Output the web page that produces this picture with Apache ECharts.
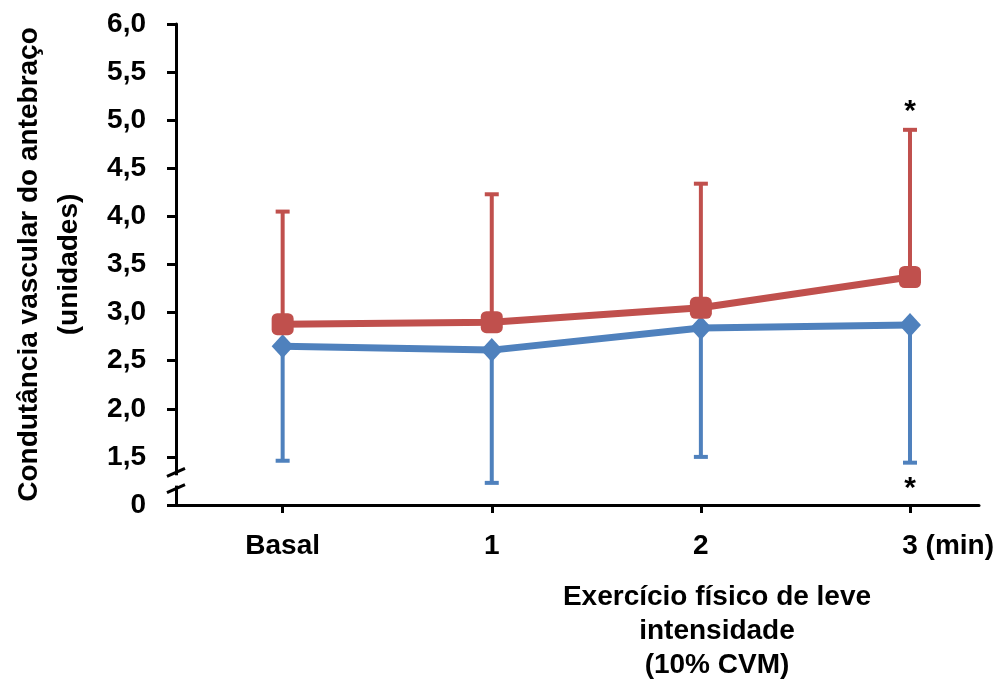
<!DOCTYPE html>
<html>
<head>
<meta charset="utf-8">
<script src="https://cdn.jsdelivr.net/npm/echarts@6/dist/echarts.min.js"></script>
<style>
html,body{margin:0;padding:0;background:#fff;}
#chart{width:1003px;height:680px;}
</style>
</head>
<body>
<div id="chart"></div>
<script>
// Data
var categories = ['Basal', '1', '2', '3'];
var redMean = [2.88, 2.90, 3.05, 3.37];
var redUpper = [4.05, 4.23, 4.34, 4.90];
var blueMean = [2.65, 2.61, 2.84, 2.87];
var blueLower = [1.46, 1.23, 1.50, 1.44];
var significant = [false, false, false, true];
var yTicks = [1.0, 1.5, 2.0, 2.5, 3.0, 3.5, 4.0, 4.5, 5.0, 5.5, 6.0];
var yTickLabels = ['0', '1,5', '2,0', '2,5', '3,0', '3,5', '4,0', '4,5', '5,0', '5,5', '6,0'];
var breakValues = [1.17, 1.34];
var yTitle = 'Condutância vascular do antebraço\n(unidades)';
var xTitle = 'Exercício físico de leve\nintensidade\n(10% CVM)';

var RED = '#C0504D', BLUE = '#4F81BD';
var FONT = '"Liberation Sans", Arial, sans-serif';
var XMIN = -0.51, XMAX = 3.33;

var chart = echarts.init(document.getElementById('chart'), null, {renderer: 'canvas'});

function pts(arr) { return arr.map(function (v, i) { return [i, v]; }); }

function errSeries(mean, bound, color, up) {
  return {
    type: 'custom',
    z: 1,
    data: mean.map(function (m, i) { return [i, m, bound[i], significant[i] ? 1 : 0]; }),
    renderItem: function (params, api) {
      var x = api.value(0);
      var p0 = api.coord([x, api.value(1)]);
      var p1 = api.coord([x, api.value(2)]);
      var children = [
        {type: 'line', shape: {x1: p0[0], y1: p0[1], x2: p1[0], y2: p1[1]}, style: {stroke: color, lineWidth: 4}},
        {type: 'line', shape: {x1: p1[0] - 7, y1: p1[1], x2: p1[0] + 7, y2: p1[1]}, style: {stroke: color, lineWidth: 4}}
      ];
      if (api.value(3)) {
        children.push({
          type: 'text',
          style: {
            text: '*', x: p1[0], y: up ? p1[1] - 3 : p1[1] + 11,
            align: 'center', verticalAlign: up ? 'bottom' : 'top',
            font: 'bold 30px ' + FONT, fill: '#000'
          }
        });
      }
      return {type: 'group', children: children};
    },
    silent: true
  };
}

var option = {
  animation: false,
  backgroundColor: '#fff',
  title: {
    text: xTitle,
    left: 712, top: 575, textAlign: 'center',
    textStyle: {fontFamily: FONT, fontWeight: 'bold', fontSize: 28, lineHeight: 34, color: '#000'}
  },
  grid: {left: 176, right: 24, top: 24, bottom: 175, containLabel: false, outerBoundsMode: 'none'},
  xAxis: {
    type: 'value', min: XMIN, max: XMAX,
    splitLine: {show: false},
    axisLine: {onZero: false, lineStyle: {color: '#000', width: 3}},
    axisTick: {show: true, customValues: [0, 1, 2, 3], length: 8, inside: false, lineStyle: {color: '#000', width: 3}},
    axisLabel: {
      customValues: [0, 1, 2, 3],
      margin: 27,
      fontFamily: FONT, fontWeight: 'bold', fontSize: 28, color: '#000',
      formatter: function (v) {
        var i = Math.round(v);
        if (i === 3) return '{h|(min) }' + categories[i] + ' (min)';
        return categories[i];
      },
      rich: {h: {color: 'rgba(0,0,0,0)', fontFamily: FONT, fontWeight: 'bold', fontSize: 28}}
    }
  },
  yAxis: {
    type: 'value', min: 1, max: 6, interval: 0.5,
    name: yTitle, nameLocation: 'middle', nameGap: 87, nameRotate: 90,
    nameTextStyle: {fontFamily: FONT, fontWeight: 'bold', fontSize: 28, lineHeight: 40, color: '#000'},
    splitLine: {show: false},
    axisLine: {show: true, onZero: false, lineStyle: {color: '#000', width: 3}},
    axisTick: {show: true, length: 9, lineStyle: {color: '#000', width: 3}},
    axisLabel: {
      margin: 30,
      fontFamily: FONT, fontWeight: 'bold', fontSize: 28, color: '#000',
      formatter: function (v) {
        for (var k = 0; k < yTicks.length; k++) if (Math.abs(yTicks[k] - v) < 1e-6) return yTickLabels[k];
        return '';
      }
    }
  },
  series: [
    errSeries(redMean, redUpper, RED, true),
    errSeries(blueMean, blueLower, BLUE, false),
    {
      type: 'line', data: pts(blueMean), z: 3,
      symbol: 'diamond', symbolSize: [22, 24],
      lineStyle: {color: BLUE, width: 7}, itemStyle: {color: BLUE}
    },
    {
      type: 'line', data: pts(redMean), z: 4,
      symbol: 'roundRect', symbolSize: 22,
      lineStyle: {color: RED, width: 7}, itemStyle: {color: RED}
    }
  ]
};
chart.setOption(option);

// Axis break marks
function drawBreak() {
  var lo = chart.convertToPixel({gridIndex: 0}, [XMIN, breakValues[0]]);
  var hi = chart.convertToPixel({gridIndex: 0}, [XMIN, breakValues[1]]);
  var x = lo[0];
  chart.setOption({
    graphic: [
      {type: 'rect', shape: {x: x - 3, y: hi[1] + 3, width: 6, height: lo[1] - hi[1] - 6}, style: {fill: '#fff'}, z: 100},
      {type: 'line', shape: {x1: x - 9, y1: hi[1] + 4, x2: x + 9, y2: hi[1] - 4}, style: {stroke: '#000', lineWidth: 3}, z: 101},
      {type: 'line', shape: {x1: x - 9, y1: lo[1] + 4, x2: x + 9, y2: lo[1] - 4}, style: {stroke: '#000', lineWidth: 3}, z: 101}
    ]
  });
}
drawBreak();
</script>
</body>
</html>
